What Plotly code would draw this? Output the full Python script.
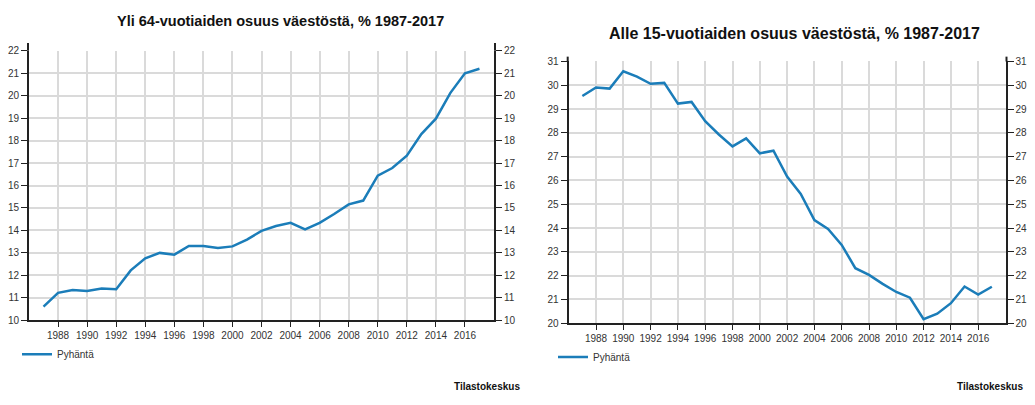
import plotly.graph_objects as go

# page body has an 8px margin; figure is sized so the page does not scroll
W, H = 1035, 405
OFF = 8
FW, FH = W - OFF, H - 2 * OFF

years = list(range(1987, 2018))
over64 = [10.61, 11.22, 11.35, 11.30, 11.41, 11.38, 12.22, 12.76, 13.00, 12.92,
          13.31, 13.31, 13.22, 13.29, 13.59, 13.98, 14.20, 14.34, 14.05, 14.34,
          14.73, 15.16, 15.33, 16.44, 16.78, 17.33, 18.29, 18.98, 20.13, 21.00, 21.20]
under15 = [29.55, 29.91, 29.86, 30.59, 30.36, 30.06, 30.10, 29.23, 29.30, 28.49,
           27.93, 27.43, 27.77, 27.14, 27.25, 26.16, 25.43, 24.33, 23.96, 23.29,
           22.31, 22.03, 21.65, 21.31, 21.07, 20.17, 20.40, 20.84, 21.54, 21.20, 21.53]
xticks = list(range(1988, 2017, 2))
series_name = "Pyhäntä"
title_left = "Yli 64-vuotiaiden osuus väestöstä, % 1987-2017"
title_right = "Alle 15-vuotiaiden osuus väestöstä, % 1987-2017"
source = "Tilastokeskus"

FONT = "Liberation Sans, Arial, sans-serif"
BLUE = "#1b7db9"
GRID = "#dadada"
AX = "#222222"
TXT = "#333333"


def px(x):
    return (x - OFF) / FW


def py(y):
    return (OFF + FH - y) / FH


fig = go.Figure()
fig.add_trace(go.Scatter(x=years, y=over64, mode="lines", name=series_name,
                         line=dict(color=BLUE, width=2.5), xaxis="x", yaxis="y",
                         legend="legend", cliponaxis=False))
fig.add_trace(go.Scatter(x=years, y=under15, mode="lines", name=series_name,
                         line=dict(color=BLUE, width=2.5), xaxis="x2", yaxis="y3",
                         legend="legend2", cliponaxis=False))
# invisible companions so the right-hand axes are drawn
fig.add_trace(go.Scatter(x=years, y=over64, mode="lines", showlegend=False,
                         line=dict(width=0), opacity=0, hoverinfo="skip",
                         xaxis="x", yaxis="y2"))
fig.add_trace(go.Scatter(x=years, y=under15, mode="lines", showlegend=False,
                         line=dict(width=0), opacity=0, hoverinfo="skip",
                         xaxis="x2", yaxis="y4"))

xcommon = dict(range=[1986, 2018], tickvals=xticks, showline=True, linecolor=AX,
               linewidth=2, ticks="outside", ticklen=5, tickcolor=AX, tickwidth=1,
               showgrid=True, gridcolor=GRID, gridwidth=1.5, zeroline=False,
               tickfont=dict(size=10, color=TXT, family=FONT), fixedrange=True)
ycommon = dict(dtick=1, showline=True, linecolor=AX, linewidth=2, ticks="outside",
               ticklen=6, tickcolor=AX, tickwidth=1, zeroline=False,
               tickfont=dict(size=10, color=TXT, family=FONT), fixedrange=True)

# plot-area geometry (pixels in the reference)
L1, R1, T1, B1, AT1 = 29, 494, 46, 324, 38
L2, R2, T2, B2, AT2 = 568.7, 1005.5, 57, 327, 52

shapes = []
for xl, xr, t, at in [(L1, R1, T1, AT1), (L2, R2, T2, AT2)]:
    for xx in (xl - 1, xr + 1):
        shapes.append(dict(type="line", xref="paper", yref="paper",
                           x0=px(xx), x1=px(xx), y0=py(t), y1=py(at),
                           line=dict(color=AX, width=2)))

fig.update_layout(
    width=FW, height=FH,
    margin=dict(l=0, r=0, t=0, b=0),
    paper_bgcolor="white", plot_bgcolor="white",
    font=dict(family=FONT, color=TXT),
    xaxis=dict(domain=[px(L1), px(R1)], anchor="y", **xcommon),
    yaxis=dict(domain=[py(B1), py(T1)], range=[10, 22], anchor="x",
               showgrid=True, gridcolor=GRID, gridwidth=1.5, tick0=10, **ycommon),
    yaxis2=dict(overlaying="y", side="right", anchor="x", range=[10, 22],
                showgrid=False, tick0=10, **ycommon),
    xaxis2=dict(domain=[px(L2), px(R2)], anchor="y3", **xcommon),
    yaxis3=dict(domain=[py(B2), py(T2)], range=[20, 31], anchor="x2",
                showgrid=True, gridcolor=GRID, gridwidth=1.5, tick0=20, **ycommon),
    yaxis4=dict(overlaying="y3", side="right", anchor="x2", range=[20, 31],
                showgrid=False, tick0=20, **ycommon),
    shapes=shapes,
    legend=dict(x=px(17), y=py(359), xanchor="left", yanchor="middle",
                font=dict(size=10, color=TXT, family=FONT), bgcolor="rgba(0,0,0,0)"),
    legend2=dict(x=px(553), y=py(362), xanchor="left", yanchor="middle",
                 font=dict(size=10, color=TXT, family=FONT), bgcolor="rgba(0,0,0,0)"),
    annotations=[
        dict(text="<b>%s</b>" % title_left, x=px(280), y=py(15), xref="paper", yref="paper",
             xanchor="center", yanchor="middle", showarrow=False,
             font=dict(size=14.5, color="#111", family=FONT)),
        dict(text="<b>%s</b>" % title_right, x=px(794), y=py(28), xref="paper", yref="paper",
             xanchor="center", yanchor="middle", showarrow=False,
             font=dict(size=16, color="#111", family=FONT)),
        dict(text="<b>%s</b>" % source, x=px(522), y=py(392), xref="paper", yref="paper",
             xanchor="right", yanchor="middle", showarrow=False,
             font=dict(size=10, color="#111", family=FONT)),
        dict(text="<b>%s</b>" % source, x=px(1025), y=py(392), xref="paper", yref="paper",
             xanchor="right", yanchor="middle", showarrow=False,
             font=dict(size=10, color="#111", family=FONT)),
    ],
)

fig.write_html("out.html")
